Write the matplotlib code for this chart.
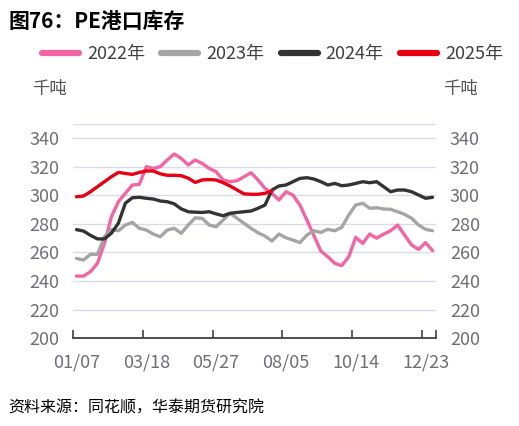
import matplotlib
matplotlib.use("Agg")
import matplotlib.pyplot as plt
import numpy as np

plt.rcParams['font.family'] = ['Noto Sans CJK SC', 'DejaVu Sans']

tick_labels = ["01/07", "03/18", "05/27", "08/05", "10/14", "12/23"]
n_weeks = 52

y2022 = [243.5, 243.5, 246.6, 252.4, 266.4, 285, 295.5, 301.4, 307.2, 307.6,
         320, 318.8, 320, 324.7, 328.9, 325.8, 321.2, 324.7, 322.3, 318.8,
         316.5, 310.7, 309.5, 310.2, 313, 315.8, 310.7, 304.8, 301.4, 296.7,
         302.5, 300.2, 293.2, 282.7, 272, 261, 257, 252.4, 250.8, 257,
         270.6, 266.4, 272.9, 270, 272.9, 275.2, 279.2, 272.2, 265.2, 262.2,
         266.9, 261.3]
y2023 = [255.9, 254.7, 258.7, 258.7, 271, 276.2, 275.2, 279.2, 281, 276.9,
         275.7, 272.9, 271, 275.7, 276.9, 273.4, 279.2, 284.2, 283.9, 279.2,
         278, 282.7, 287.4, 283.9, 280.4, 276.9, 273.8, 271.5, 268, 272.9,
         270.3, 268.7, 266.9, 272.2, 275.2, 274, 276.2, 275.2, 277.6, 286.2,
         293.2, 294.4, 290.9, 291.3, 290.4, 290.2, 288.5, 286.7, 283.9, 279.2,
         276.2, 275.2]
y2024 = [276, 275, 272, 269.5, 269.5, 273.5, 280.5, 294.5, 298.3, 298.6,
         297.9, 297.4, 296, 295.5, 294, 290.5, 288.5, 288.2, 288, 288.5,
         287, 285.7, 287.4, 288, 288.5, 289, 290.9, 293.2, 303.7, 306.5,
         307.2, 309.5, 311.8, 312.3, 311.4, 309.5, 307.2, 308.3, 306.7, 307.2,
         308.3, 309.5, 308.8, 309.5, 306, 302.5, 303.7, 303.7, 302.5, 300.2,
         297.9, 298.6]
y2025 = [299, 299.5, 302.5, 306, 309.5, 313, 316, 315.3, 314.6, 316,
         317, 317, 315, 314, 314, 313.7, 312, 309, 310.7, 311,
         310.7, 308.8, 306.5, 303.7, 301, 300.7, 300.7, 301.4, 303]

series = [("2022年", y2022, "#F364A2"),
          ("2023年", y2023, "#A5A5A5"),
          ("2024年", y2024, "#333333"),
          ("2025年", y2025, "#E60012")]

fig = plt.figure(figsize=(5.19, 4.26), dpi=100)
ax = fig.add_axes([0.1407, 0.2059, 0.8401 - 0.1407, 0.7094 - 0.2059])

for label, vals, col in series:
    ax.plot(np.arange(len(vals)), vals, color=col, lw=2.4, label=label,
            solid_capstyle='round', solid_joinstyle='round')

ax.set_xlim(-0.5, n_weeks - 0.5)
ax.set_ylim(200, 350)
ax.set_yticks(np.arange(200, 341, 20))
ax.yaxis.grid(True, color='#D9DCE6', lw=1)
ax.axhline(350, color='#D9DCE6', lw=1)
ax.set_axisbelow(True)

ax.set_xticks(np.arange(0, n_weeks, 10))
ax.set_xticklabels(tick_labels)
ax.set_xticks(list(np.arange(-0.5, n_weeks, 10)) + [n_weeks - 0.5], minor=True)
ax.tick_params(axis='x', which='major', length=0, pad=11, labelsize=13, labelcolor='#6E6E78')
ax.tick_params(axis='x', which='minor', length=6, direction='in', color='#404040', width=1.2)
ax.tick_params(axis='y', length=0, labelleft=True, labelright=True,
               labelsize=13, labelcolor='#6E6E78', pad=10)

for s in ['top', 'left', 'right']:
    ax.spines[s].set_visible(False)
ax.spines['bottom'].set_color('#404040')
ax.spines['bottom'].set_linewidth(1.3)

leg = fig.legend(loc='center', bbox_to_anchor=(0.525, 0.873), ncol=4, frameon=False,
                 fontsize=13, handlelength=2.05, handletextpad=0.45, columnspacing=0.9,
                 labelcolor='#404040')
for h in leg.legend_handles:
    h.set_linewidth(4.5)
    h.set_solid_capstyle('round')

fig.text(8 / 519, 1 - 21 / 426, "图76：PE港口库存", fontsize=15, fontweight='bold',
         ha='left', va='center', color='#000000')
fig.text(49.5 / 519, 1 - 89 / 426, "千吨", fontsize=12.5, ha='center', va='center', color='#555555')
fig.text(460.5 / 519, 1 - 89 / 426, "千吨", fontsize=12.5, ha='center', va='center', color='#555555')
fig.text(8 / 519, 1 - 408 / 426, "资料来源：同花顺，华泰期货研究院", fontsize=11.5, style='italic',
         ha='left', va='center', color='#000000')

fig.savefig("out.png", dpi=100)
